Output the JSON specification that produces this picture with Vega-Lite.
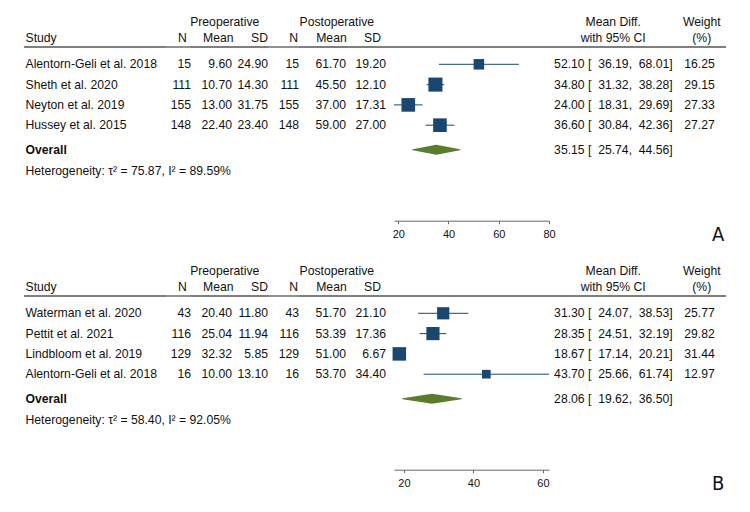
{
"$schema": "https://vega.github.io/schema/vega-lite/v6.json",
"padding": {"left": 23, "top": 13.55, "right": 0, "bottom": 0},
"background": "white",
"datasets": {
 "A": [
  {"row": "r1", "study": "Alentorn-Geli et al. 2018", "n1": 15, "m1": 9.60, "sd1": 24.90, "n2": 15, "m2": 61.70, "sd2": 19.20, "md": 52.10, "lo": 36.19, "hi": 68.01, "w": 16.25, "ci": "52.10 [\u00a0\u00a036.19,\u00a0\u00a068.01]"},
  {"row": "r2", "study": "Sheth et al. 2020", "n1": 111, "m1": 10.70, "sd1": 14.30, "n2": 111, "m2": 45.50, "sd2": 12.10, "md": 34.80, "lo": 31.32, "hi": 38.28, "w": 29.15, "ci": "34.80 [\u00a0\u00a031.32,\u00a0\u00a038.28]"},
  {"row": "r3", "study": "Neyton et al. 2019", "n1": 155, "m1": 13.00, "sd1": 31.75, "n2": 155, "m2": 37.00, "sd2": 17.31, "md": 24.00, "lo": 18.31, "hi": 29.69, "w": 27.33, "ci": "24.00 [\u00a0\u00a018.31,\u00a0\u00a029.69]"},
  {"row": "r4", "study": "Hussey et al. 2015", "n1": 148, "m1": 22.40, "sd1": 23.40, "n2": 148, "m2": 59.00, "sd2": 27.00, "md": 36.60, "lo": 30.84, "hi": 42.36, "w": 27.27, "ci": "36.60 [\u00a0\u00a030.84,\u00a0\u00a042.36]"}
 ],
 "Aov": [
  {"row": "ov", "md": 35.15, "lo": 25.74, "hi": 44.56, "ci": "35.15 [\u00a0\u00a025.74,\u00a0\u00a044.56]", "het": "Heterogeneity: τ² = 75.87, I² = 89.59%"}
 ],
 "B": [
  {"row": "r1", "study": "Waterman et al. 2020", "n1": 43, "m1": 20.40, "sd1": 11.80, "n2": 43, "m2": 51.70, "sd2": 21.10, "md": 31.30, "lo": 24.07, "hi": 38.53, "w": 25.77, "ci": "31.30 [\u00a0\u00a024.07,\u00a0\u00a038.53]"},
  {"row": "r2", "study": "Pettit et al. 2021", "n1": 116, "m1": 25.04, "sd1": 11.94, "n2": 116, "m2": 53.39, "sd2": 17.36, "md": 28.35, "lo": 24.51, "hi": 32.19, "w": 29.82, "ci": "28.35 [\u00a0\u00a024.51,\u00a0\u00a032.19]"},
  {"row": "r3", "study": "Lindbloom et al. 2019", "n1": 129, "m1": 32.32, "sd1": 5.85, "n2": 129, "m2": 51.00, "sd2": 6.67, "md": 18.67, "lo": 17.14, "hi": 20.21, "w": 31.44, "ci": "18.67 [\u00a0\u00a017.14,\u00a0\u00a020.21]"},
  {"row": "r4", "study": "Alentorn-Geli et al. 2018", "n1": 16, "m1": 10.00, "sd1": 13.10, "n2": 16, "m2": 53.70, "sd2": 34.40, "md": 43.70, "lo": 25.66, "hi": 61.74, "w": 12.97, "ci": "43.70 [\u00a0\u00a025.66,\u00a0\u00a061.74]"}
 ],
 "Bov": [
  {"row": "ov", "md": 28.06, "lo": 19.62, "hi": 36.50, "ci": "28.06 [\u00a0\u00a019.62,\u00a0\u00a036.50]", "het": "Heterogeneity: τ² = 58.40, I² = 92.05%"}
 ]
},
"vconcat": [
 {"hconcat": [
  {"width": 142, "height": 162.4, "encoding": {"x": {"value": 0}, "y": {"field": "row", "type": "ordinal", "axis": null, "scale": {"type": "point", "domain": ["l1","l2","r1","r2","r3","r4","ov","het"], "padding": 0.5}}},
   "layer": [
    {"data": {"values": [{}]}, "mark": {"type": "text", "align": "left", "dx": 1.5, "dy": -6.3}, "encoding": {"y": {"datum": "l2", "type": "ordinal"}, "text": {"value": "Study"}}},
    {"data": {"name": "A"}, "mark": {"type": "text", "align": "left", "dx": 1.5}, "encoding": {"text": {"field": "study", "type": "nominal"}}},
    {"data": {"name": "Aov"}, "mark": {"type": "text", "align": "left", "dx": 1.5, "dy": 4.2, "fontWeight": "bold"}, "encoding": {"text": {"value": "Overall"}}},
    {"data": {"name": "Aov"}, "mark": {"type": "text", "align": "left", "dx": 1.5, "dy": 4.9}, "encoding": {"y": {"datum": "het", "type": "ordinal"}, "text": {"field": "het", "type": "nominal"}}},
    {"data": {"values": [{}]}, "mark": {"type": "rule", "color": "#555555", "strokeWidth": 1.3, "yOffset": 3}, "encoding": {"x": {"value": 0}, "x2": {"value": "width"}, "y": {"datum": "l2", "type": "ordinal"}}}
   ]},
  {"width": 25, "height": 162.4, "encoding": {"x": {"value": "width"}, "y": {"field": "row", "type": "ordinal", "axis": null, "scale": {"type": "point", "domain": ["l1","l2","r1","r2","r3","r4","ov","het"], "padding": 0.5}}},
   "layer": [
    {"data": {"values": [{}]}, "mark": {"type": "text", "align": "right", "dx": -4.3, "dy": -6.3}, "encoding": {"y": {"datum": "l2", "type": "ordinal"}, "text": {"value": "N"}}},
    {"data": {"name": "A"}, "mark": {"type": "text", "align": "right"}, "encoding": {"text": {"field": "n1", "type": "quantitative", "format": "d"}}},
    {"data": {"values": [{}]}, "mark": {"type": "rule", "color": "#555555", "strokeWidth": 1.3, "yOffset": 3}, "encoding": {"x": {"value": 0}, "x2": {"value": "width"}, "y": {"datum": "l2", "type": "ordinal"}}}
   ]},
  {"width": 41, "height": 162.4, "encoding": {"x": {"value": "width"}, "y": {"field": "row", "type": "ordinal", "axis": null, "scale": {"type": "point", "domain": ["l1","l2","r1","r2","r3","r4","ov","het"], "padding": 0.5}}},
   "layer": [
    {"data": {"values": [{}]}, "mark": {"type": "text", "align": "center", "dx": -7.3, "dy": -2}, "encoding": {"y": {"datum": "l1", "type": "ordinal"}, "text": {"value": "Preoperative"}}},
    {"data": {"values": [{}]}, "mark": {"type": "text", "align": "right", "dx": 1.6, "dy": -6.3}, "encoding": {"y": {"datum": "l2", "type": "ordinal"}, "text": {"value": "Mean"}}},
    {"data": {"name": "A"}, "mark": {"type": "text", "align": "right"}, "encoding": {"text": {"field": "m1", "type": "quantitative", "format": ".2f"}}},
    {"data": {"values": [{}]}, "mark": {"type": "rule", "color": "#555555", "strokeWidth": 1.3, "yOffset": 3}, "encoding": {"x": {"value": 0}, "x2": {"value": "width"}, "y": {"datum": "l2", "type": "ordinal"}}}
   ]},
  {"width": 36, "height": 162.4, "encoding": {"x": {"value": "width"}, "y": {"field": "row", "type": "ordinal", "axis": null, "scale": {"type": "point", "domain": ["l1","l2","r1","r2","r3","r4","ov","het"], "padding": 0.5}}},
   "layer": [
    {"data": {"values": [{}]}, "mark": {"type": "text", "align": "right", "dy": -6.3}, "encoding": {"y": {"datum": "l2", "type": "ordinal"}, "text": {"value": "SD"}}},
    {"data": {"name": "A"}, "mark": {"type": "text", "align": "right"}, "encoding": {"text": {"field": "sd1", "type": "quantitative", "format": ".2f"}}},
    {"data": {"values": [{}]}, "mark": {"type": "rule", "color": "#555555", "strokeWidth": 1.3, "yOffset": 3}, "encoding": {"x": {"value": 0}, "x2": {"value": "width"}, "y": {"datum": "l2", "type": "ordinal"}}}
   ]},
  {"width": 31, "height": 162.4, "encoding": {"x": {"value": "width"}, "y": {"field": "row", "type": "ordinal", "axis": null, "scale": {"type": "point", "domain": ["l1","l2","r1","r2","r3","r4","ov","het"], "padding": 0.5}}},
   "layer": [
    {"data": {"values": [{}]}, "mark": {"type": "text", "align": "right", "dx": -1, "dy": -6.3}, "encoding": {"y": {"datum": "l2", "type": "ordinal"}, "text": {"value": "N"}}},
    {"data": {"name": "A"}, "mark": {"type": "text", "align": "right"}, "encoding": {"text": {"field": "n2", "type": "quantitative", "format": "d"}}},
    {"data": {"values": [{}]}, "mark": {"type": "rule", "color": "#555555", "strokeWidth": 1.3, "yOffset": 3}, "encoding": {"x": {"value": 0}, "x2": {"value": "width"}, "y": {"datum": "l2", "type": "ordinal"}}}
   ]},
  {"width": 47, "height": 162.4, "encoding": {"x": {"value": "width"}, "y": {"field": "row", "type": "ordinal", "axis": null, "scale": {"type": "point", "domain": ["l1","l2","r1","r2","r3","r4","ov","het"], "padding": 0.5}}},
   "layer": [
    {"data": {"values": [{}]}, "mark": {"type": "text", "align": "center", "dx": -9.2, "dy": -2}, "encoding": {"y": {"datum": "l1", "type": "ordinal"}, "text": {"value": "Postoperative"}}},
    {"data": {"values": [{}]}, "mark": {"type": "text", "align": "right", "dx": 0.7, "dy": -6.3}, "encoding": {"y": {"datum": "l2", "type": "ordinal"}, "text": {"value": "Mean"}}},
    {"data": {"name": "A"}, "mark": {"type": "text", "align": "right"}, "encoding": {"text": {"field": "m2", "type": "quantitative", "format": ".2f"}}},
    {"data": {"values": [{}]}, "mark": {"type": "rule", "color": "#555555", "strokeWidth": 1.3, "yOffset": 3}, "encoding": {"x": {"value": 0}, "x2": {"value": "width"}, "y": {"datum": "l2", "type": "ordinal"}}}
   ]},
  {"width": 48, "height": 162.4, "encoding": {"x": {"value": "width"}, "y": {"field": "row", "type": "ordinal", "axis": null, "scale": {"type": "point", "domain": ["l1","l2","r1","r2","r3","r4","ov","het"], "padding": 0.5}}},
   "layer": [
    {"data": {"values": [{}]}, "mark": {"type": "text", "align": "right", "dx": -13, "dy": -6.3}, "encoding": {"y": {"datum": "l2", "type": "ordinal"}, "text": {"value": "SD"}}},
    {"data": {"name": "A"}, "mark": {"type": "text", "align": "right", "dx": -8}, "encoding": {"text": {"field": "sd2", "type": "quantitative", "format": ".2f"}}},
    {"data": {"values": [{}]}, "mark": {"type": "rule", "color": "#555555", "strokeWidth": 1.3, "yOffset": 3}, "encoding": {"x": {"value": 0}, "x2": {"value": "width"}, "y": {"datum": "l2", "type": "ordinal"}}}
   ]},
  {"width": 155, "height": 162.4, "encoding": {"y": {"field": "row", "type": "ordinal", "axis": null, "scale": {"type": "point", "domain": ["l1","l2","r1","r2","r3","r4","ov","het"], "padding": 0.5}}},
   "resolve": {"scale": {"size": "independent"}},
   "layer": [
    {"data": {"values": [{}]}, "mark": {"type": "rule", "color": "#555555", "strokeWidth": 1.3, "yOffset": 3}, "encoding": {"x": {"value": 0}, "x2": {"value": "width"}, "y": {"datum": "l2", "type": "ordinal"}}},
    {"data": {"name": "A"}, "mark": {"type": "rule", "color": "#1a476f", "strokeWidth": 1}, "encoding": {"x": {"field": "lo", "type": "quantitative", "title": null, "scale": {"domain": [18.31, 80], "nice": false, "zero": false}, "axis": {"values": [20, 40, 60, 80], "title": null, "grid": false, "offset": 44.75, "tickSize": 3, "tickColor": "#666666", "domainColor": "#666666", "labelFontSize": 11, "labelFont": "Liberation Sans", "labelColor": "#111111", "labelPadding": 5, "labelFlush": false}}, "x2": {"field": "hi"}}},
    {"data": {"name": "A"}, "mark": {"type": "point", "shape": "square", "filled": true, "color": "#1a476f", "opacity": 1}, "encoding": {"x": {"field": "md", "type": "quantitative", "title": null}, "size": {"field": "w", "type": "quantitative", "scale": {"domain": [0, 30], "range": [0, 204]}, "legend": null}}},
    {"data": {"name": "Aov"}, "transform": [{"fold": ["lo", "md", "hi"], "as": ["k", "v"]}], "mark": {"type": "trail", "color": "#5a7d2d", "yOffset": 4.2}, "encoding": {"x": {"field": "v", "type": "quantitative", "title": null}, "order": {"field": "v", "type": "quantitative"}, "size": {"field": "k", "type": "nominal", "scale": {"type": "ordinal", "domain": ["lo", "md", "hi"], "range": [0, 10, 0]}, "legend": null}}}
   ]},
  {"width": 124, "height": 162.4, "encoding": {"x": {"value": "width"}, "y": {"field": "row", "type": "ordinal", "axis": null, "scale": {"type": "point", "domain": ["l1","l2","r1","r2","r3","r4","ov","het"], "padding": 0.5}}},
   "layer": [
    {"data": {"values": [{}]}, "mark": {"type": "text", "align": "center", "dx": -59.8, "dy": -2}, "encoding": {"y": {"datum": "l1", "type": "ordinal"}, "text": {"value": "Mean Diff."}}},
    {"data": {"values": [{}]}, "mark": {"type": "text", "align": "center", "dx": -59.8, "dy": -6.3}, "encoding": {"y": {"datum": "l2", "type": "ordinal"}, "text": {"value": "with 95% CI"}}},
    {"data": {"name": "A"}, "mark": {"type": "text", "align": "right", "dx": -0.3}, "encoding": {"text": {"field": "ci", "type": "nominal"}}},
    {"data": {"name": "Aov"}, "mark": {"type": "text", "align": "right", "dx": -0.3, "dy": 4.2}, "encoding": {"text": {"field": "ci", "type": "nominal"}}},
    {"data": {"values": [{}]}, "mark": {"type": "rule", "color": "#555555", "strokeWidth": 1.3, "yOffset": 3}, "encoding": {"x": {"value": 0}, "x2": {"value": "width"}, "y": {"datum": "l2", "type": "ordinal"}}}
   ]},
  {"width": 53, "height": 162.4, "encoding": {"x": {"value": "width"}, "y": {"field": "row", "type": "ordinal", "axis": null, "scale": {"type": "point", "domain": ["l1","l2","r1","r2","r3","r4","ov","het"], "padding": 0.5}}},
   "layer": [
    {"data": {"values": [{}]}, "mark": {"type": "text", "align": "center", "dx": -24.2, "dy": -2}, "encoding": {"y": {"datum": "l1", "type": "ordinal"}, "text": {"value": "Weight"}}},
    {"data": {"values": [{}]}, "mark": {"type": "text", "align": "center", "dx": -24.2, "dy": -6.3}, "encoding": {"y": {"datum": "l2", "type": "ordinal"}, "text": {"value": "(%)"}}},
    {"data": {"name": "A"}, "mark": {"type": "text", "align": "right", "dx": -11.3}, "encoding": {"text": {"field": "w", "type": "quantitative", "format": ".2f"}}},
    {"data": {"values": [{}]}, "mark": {"type": "text", "align": "right", "dx": -1.7, "dy": 69.2, "font": "Liberation Sans Narrow, DejaVu Sans Condensed, Liberation Sans, sans-serif", "fontSize": 20}, "encoding": {"y": {"datum": "het", "type": "ordinal"}, "text": {"value": "A"}}},
    {"data": {"values": [{}]}, "mark": {"type": "rule", "color": "#555555", "strokeWidth": 1.3, "yOffset": 3}, "encoding": {"x": {"value": 0}, "x2": {"value": "width"}, "y": {"datum": "l2", "type": "ordinal"}}}
   ]}
 ], "spacing": 0, "bounds": "flush"},
 {"hconcat": [
  {"width": 142, "height": 162.4, "encoding": {"x": {"value": 0}, "y": {"field": "row", "type": "ordinal", "axis": null, "scale": {"type": "point", "domain": ["l1","l2","r1","r2","r3","r4","ov","het"], "padding": 0.5}}},
   "layer": [
    {"data": {"values": [{}]}, "mark": {"type": "text", "align": "left", "dx": 1.5, "dy": -6.3}, "encoding": {"y": {"datum": "l2", "type": "ordinal"}, "text": {"value": "Study"}}},
    {"data": {"name": "B"}, "mark": {"type": "text", "align": "left", "dx": 1.5}, "encoding": {"text": {"field": "study", "type": "nominal"}}},
    {"data": {"name": "Bov"}, "mark": {"type": "text", "align": "left", "dx": 1.5, "dy": 4.2, "fontWeight": "bold"}, "encoding": {"text": {"value": "Overall"}}},
    {"data": {"name": "Bov"}, "mark": {"type": "text", "align": "left", "dx": 1.5, "dy": 4.9}, "encoding": {"y": {"datum": "het", "type": "ordinal"}, "text": {"field": "het", "type": "nominal"}}},
    {"data": {"values": [{}]}, "mark": {"type": "rule", "color": "#555555", "strokeWidth": 1.3, "yOffset": 3}, "encoding": {"x": {"value": 0}, "x2": {"value": "width"}, "y": {"datum": "l2", "type": "ordinal"}}}
   ]},
  {"width": 25, "height": 162.4, "encoding": {"x": {"value": "width"}, "y": {"field": "row", "type": "ordinal", "axis": null, "scale": {"type": "point", "domain": ["l1","l2","r1","r2","r3","r4","ov","het"], "padding": 0.5}}},
   "layer": [
    {"data": {"values": [{}]}, "mark": {"type": "text", "align": "right", "dx": -4.3, "dy": -6.3}, "encoding": {"y": {"datum": "l2", "type": "ordinal"}, "text": {"value": "N"}}},
    {"data": {"name": "B"}, "mark": {"type": "text", "align": "right"}, "encoding": {"text": {"field": "n1", "type": "quantitative", "format": "d"}}},
    {"data": {"values": [{}]}, "mark": {"type": "rule", "color": "#555555", "strokeWidth": 1.3, "yOffset": 3}, "encoding": {"x": {"value": 0}, "x2": {"value": "width"}, "y": {"datum": "l2", "type": "ordinal"}}}
   ]},
  {"width": 41, "height": 162.4, "encoding": {"x": {"value": "width"}, "y": {"field": "row", "type": "ordinal", "axis": null, "scale": {"type": "point", "domain": ["l1","l2","r1","r2","r3","r4","ov","het"], "padding": 0.5}}},
   "layer": [
    {"data": {"values": [{}]}, "mark": {"type": "text", "align": "center", "dx": -7.3, "dy": -2}, "encoding": {"y": {"datum": "l1", "type": "ordinal"}, "text": {"value": "Preoperative"}}},
    {"data": {"values": [{}]}, "mark": {"type": "text", "align": "right", "dx": 1.6, "dy": -6.3}, "encoding": {"y": {"datum": "l2", "type": "ordinal"}, "text": {"value": "Mean"}}},
    {"data": {"name": "B"}, "mark": {"type": "text", "align": "right"}, "encoding": {"text": {"field": "m1", "type": "quantitative", "format": ".2f"}}},
    {"data": {"values": [{}]}, "mark": {"type": "rule", "color": "#555555", "strokeWidth": 1.3, "yOffset": 3}, "encoding": {"x": {"value": 0}, "x2": {"value": "width"}, "y": {"datum": "l2", "type": "ordinal"}}}
   ]},
  {"width": 36, "height": 162.4, "encoding": {"x": {"value": "width"}, "y": {"field": "row", "type": "ordinal", "axis": null, "scale": {"type": "point", "domain": ["l1","l2","r1","r2","r3","r4","ov","het"], "padding": 0.5}}},
   "layer": [
    {"data": {"values": [{}]}, "mark": {"type": "text", "align": "right", "dy": -6.3}, "encoding": {"y": {"datum": "l2", "type": "ordinal"}, "text": {"value": "SD"}}},
    {"data": {"name": "B"}, "mark": {"type": "text", "align": "right"}, "encoding": {"text": {"field": "sd1", "type": "quantitative", "format": ".2f"}}},
    {"data": {"values": [{}]}, "mark": {"type": "rule", "color": "#555555", "strokeWidth": 1.3, "yOffset": 3}, "encoding": {"x": {"value": 0}, "x2": {"value": "width"}, "y": {"datum": "l2", "type": "ordinal"}}}
   ]},
  {"width": 31, "height": 162.4, "encoding": {"x": {"value": "width"}, "y": {"field": "row", "type": "ordinal", "axis": null, "scale": {"type": "point", "domain": ["l1","l2","r1","r2","r3","r4","ov","het"], "padding": 0.5}}},
   "layer": [
    {"data": {"values": [{}]}, "mark": {"type": "text", "align": "right", "dx": -1, "dy": -6.3}, "encoding": {"y": {"datum": "l2", "type": "ordinal"}, "text": {"value": "N"}}},
    {"data": {"name": "B"}, "mark": {"type": "text", "align": "right"}, "encoding": {"text": {"field": "n2", "type": "quantitative", "format": "d"}}},
    {"data": {"values": [{}]}, "mark": {"type": "rule", "color": "#555555", "strokeWidth": 1.3, "yOffset": 3}, "encoding": {"x": {"value": 0}, "x2": {"value": "width"}, "y": {"datum": "l2", "type": "ordinal"}}}
   ]},
  {"width": 47, "height": 162.4, "encoding": {"x": {"value": "width"}, "y": {"field": "row", "type": "ordinal", "axis": null, "scale": {"type": "point", "domain": ["l1","l2","r1","r2","r3","r4","ov","het"], "padding": 0.5}}},
   "layer": [
    {"data": {"values": [{}]}, "mark": {"type": "text", "align": "center", "dx": -9.2, "dy": -2}, "encoding": {"y": {"datum": "l1", "type": "ordinal"}, "text": {"value": "Postoperative"}}},
    {"data": {"values": [{}]}, "mark": {"type": "text", "align": "right", "dx": 0.7, "dy": -6.3}, "encoding": {"y": {"datum": "l2", "type": "ordinal"}, "text": {"value": "Mean"}}},
    {"data": {"name": "B"}, "mark": {"type": "text", "align": "right"}, "encoding": {"text": {"field": "m2", "type": "quantitative", "format": ".2f"}}},
    {"data": {"values": [{}]}, "mark": {"type": "rule", "color": "#555555", "strokeWidth": 1.3, "yOffset": 3}, "encoding": {"x": {"value": 0}, "x2": {"value": "width"}, "y": {"datum": "l2", "type": "ordinal"}}}
   ]},
  {"width": 48, "height": 162.4, "encoding": {"x": {"value": "width"}, "y": {"field": "row", "type": "ordinal", "axis": null, "scale": {"type": "point", "domain": ["l1","l2","r1","r2","r3","r4","ov","het"], "padding": 0.5}}},
   "layer": [
    {"data": {"values": [{}]}, "mark": {"type": "text", "align": "right", "dx": -13, "dy": -6.3}, "encoding": {"y": {"datum": "l2", "type": "ordinal"}, "text": {"value": "SD"}}},
    {"data": {"name": "B"}, "mark": {"type": "text", "align": "right", "dx": -8}, "encoding": {"text": {"field": "sd2", "type": "quantitative", "format": ".2f"}}},
    {"data": {"values": [{}]}, "mark": {"type": "rule", "color": "#555555", "strokeWidth": 1.3, "yOffset": 3}, "encoding": {"x": {"value": 0}, "x2": {"value": "width"}, "y": {"datum": "l2", "type": "ordinal"}}}
   ]},
  {"width": 155, "height": 162.4, "encoding": {"y": {"field": "row", "type": "ordinal", "axis": null, "scale": {"type": "point", "domain": ["l1","l2","r1","r2","r3","r4","ov","het"], "padding": 0.5}}},
   "resolve": {"scale": {"size": "independent"}},
   "layer": [
    {"data": {"values": [{}]}, "mark": {"type": "rule", "color": "#555555", "strokeWidth": 1.3, "yOffset": 3}, "encoding": {"x": {"value": 0}, "x2": {"value": "width"}, "y": {"datum": "l2", "type": "ordinal"}}},
    {"data": {"name": "B"}, "mark": {"type": "rule", "color": "#1a476f", "strokeWidth": 1}, "encoding": {"x": {"field": "lo", "type": "quantitative", "title": null, "scale": {"domain": [17.14, 61.74], "nice": false, "zero": false}, "axis": {"values": [20, 30, 40, 50, 60], "title": null, "grid": false, "offset": 44.75, "tickSize": 3, "tickColor": "#666666", "domainColor": "#666666", "labelFontSize": 11, "labelFont": "Liberation Sans", "labelColor": "#111111", "labelPadding": 5, "labelFlush": false}}, "x2": {"field": "hi"}}},
    {"data": {"name": "B"}, "mark": {"type": "point", "shape": "square", "filled": true, "color": "#1a476f", "opacity": 1}, "encoding": {"x": {"field": "md", "type": "quantitative", "title": null}, "size": {"field": "w", "type": "quantitative", "scale": {"domain": [0, 30], "range": [0, 174]}, "legend": null}}},
    {"data": {"name": "Bov"}, "transform": [{"fold": ["lo", "md", "hi"], "as": ["k", "v"]}], "mark": {"type": "trail", "color": "#5a7d2d", "yOffset": 4.2}, "encoding": {"x": {"field": "v", "type": "quantitative", "title": null}, "order": {"field": "v", "type": "quantitative"}, "size": {"field": "k", "type": "nominal", "scale": {"type": "ordinal", "domain": ["lo", "md", "hi"], "range": [0, 10, 0]}, "legend": null}}}
   ]},
  {"width": 124, "height": 162.4, "encoding": {"x": {"value": "width"}, "y": {"field": "row", "type": "ordinal", "axis": null, "scale": {"type": "point", "domain": ["l1","l2","r1","r2","r3","r4","ov","het"], "padding": 0.5}}},
   "layer": [
    {"data": {"values": [{}]}, "mark": {"type": "text", "align": "center", "dx": -59.8, "dy": -2}, "encoding": {"y": {"datum": "l1", "type": "ordinal"}, "text": {"value": "Mean Diff."}}},
    {"data": {"values": [{}]}, "mark": {"type": "text", "align": "center", "dx": -59.8, "dy": -6.3}, "encoding": {"y": {"datum": "l2", "type": "ordinal"}, "text": {"value": "with 95% CI"}}},
    {"data": {"name": "B"}, "mark": {"type": "text", "align": "right", "dx": -0.3}, "encoding": {"text": {"field": "ci", "type": "nominal"}}},
    {"data": {"name": "Bov"}, "mark": {"type": "text", "align": "right", "dx": -0.3, "dy": 4.2}, "encoding": {"text": {"field": "ci", "type": "nominal"}}},
    {"data": {"values": [{}]}, "mark": {"type": "rule", "color": "#555555", "strokeWidth": 1.3, "yOffset": 3}, "encoding": {"x": {"value": 0}, "x2": {"value": "width"}, "y": {"datum": "l2", "type": "ordinal"}}}
   ]},
  {"width": 53, "height": 162.4, "encoding": {"x": {"value": "width"}, "y": {"field": "row", "type": "ordinal", "axis": null, "scale": {"type": "point", "domain": ["l1","l2","r1","r2","r3","r4","ov","het"], "padding": 0.5}}},
   "layer": [
    {"data": {"values": [{}]}, "mark": {"type": "text", "align": "center", "dx": -24.2, "dy": -2}, "encoding": {"y": {"datum": "l1", "type": "ordinal"}, "text": {"value": "Weight"}}},
    {"data": {"values": [{}]}, "mark": {"type": "text", "align": "center", "dx": -24.2, "dy": -6.3}, "encoding": {"y": {"datum": "l2", "type": "ordinal"}, "text": {"value": "(%)"}}},
    {"data": {"name": "B"}, "mark": {"type": "text", "align": "right", "dx": -11.3}, "encoding": {"text": {"field": "w", "type": "quantitative", "format": ".2f"}}},
    {"data": {"values": [{}]}, "mark": {"type": "text", "align": "right", "dx": -1.7, "dy": 69.2, "font": "Liberation Sans Narrow, DejaVu Sans Condensed, Liberation Sans, sans-serif", "fontSize": 20}, "encoding": {"y": {"datum": "het", "type": "ordinal"}, "text": {"value": "B"}}},
    {"data": {"values": [{}]}, "mark": {"type": "rule", "color": "#555555", "strokeWidth": 1.3, "yOffset": 3}, "encoding": {"x": {"value": 0}, "x2": {"value": "width"}, "y": {"datum": "l2", "type": "ordinal"}}}
   ]}
 ], "spacing": 0, "bounds": "flush"}
],
"spacing": 17,
"bounds": "full",
"config": {
 "view": {"stroke": null},
 "text": {"font": "Liberation Sans", "fontSize": 12.2, "color": "#111111"},
 "concat": {"spacing": 0}
}
}
